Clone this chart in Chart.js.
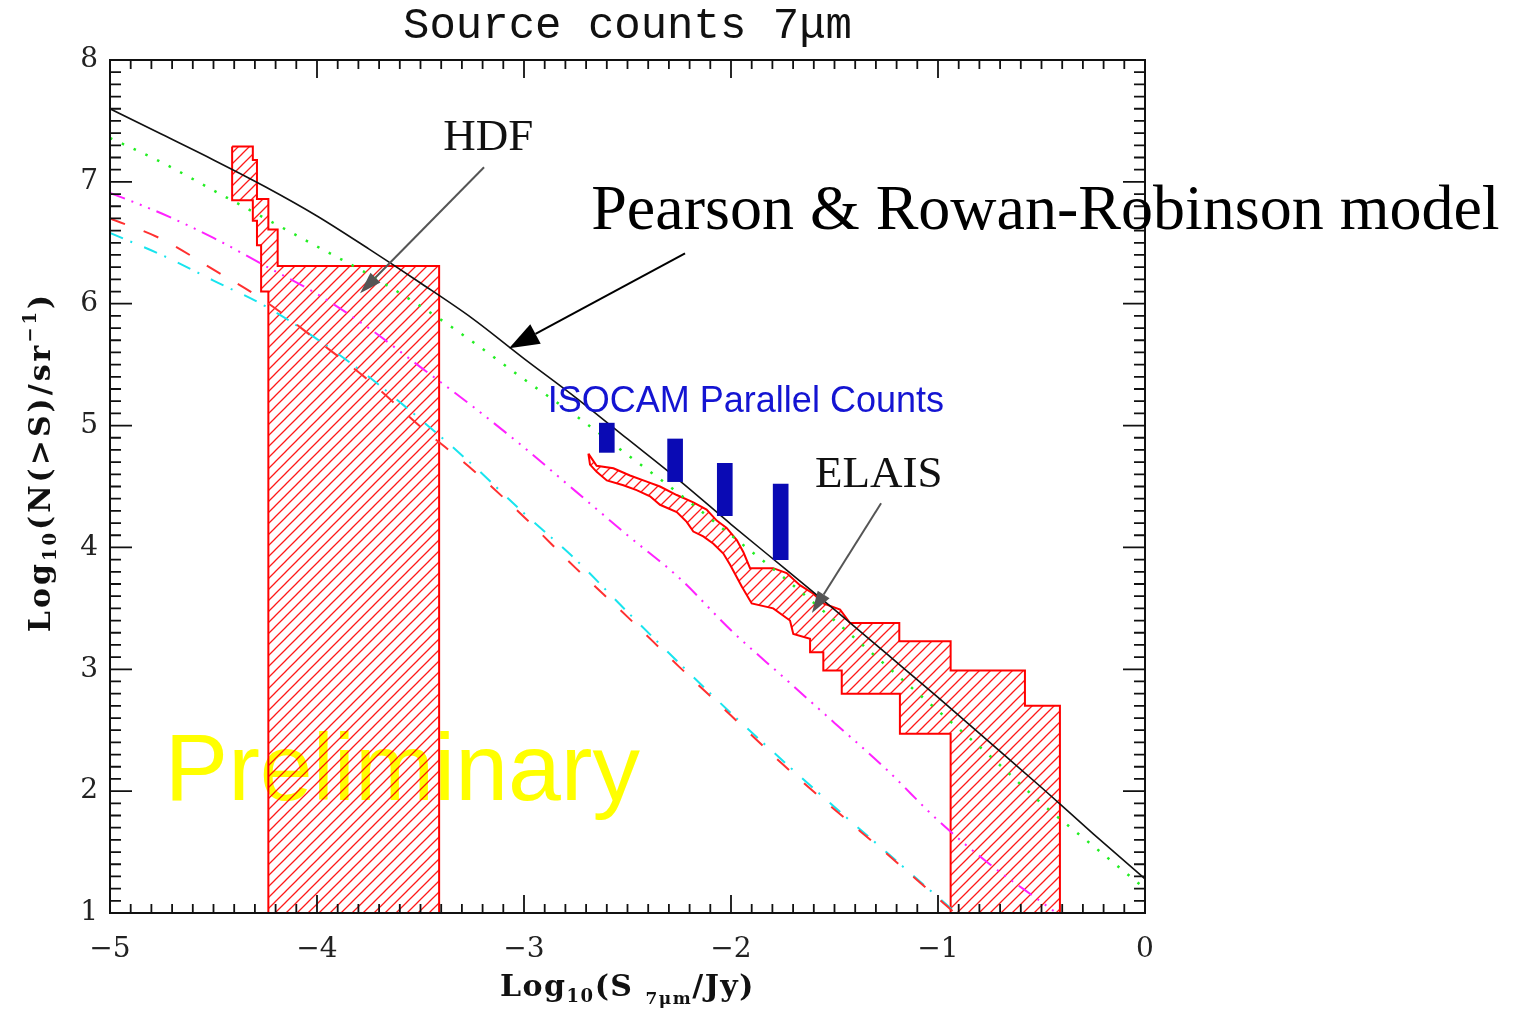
<!DOCTYPE html>
<html>
<head>
<meta charset="utf-8">
<title>Source counts 7μm</title>
<script src="https://cdn.jsdelivr.net/npm/chart.js@4.4.1/dist/chart.umd.min.js"></script>
<style>
  html, body { margin: 0; padding: 0; background: #fff; }
  canvas { display: block; }
</style>
</head>
<body>
<canvas id="myChart" width="1517" height="1013"></canvas>
<script>
'use strict';

// model curves, read every 0.25 in log S (null = below the plot)
let logS = [-5, -4.75, -4.5, -4.25, -4, -3.75, -3.5, -3.25, -3, -2.75, -2.5, -2.25, -2, -1.75, -1.5, -1.25, -1, -0.75, -0.5, -0.25, 0];
let totalModel = [7.60, 7.39, 7.18, 6.96, 6.72, 6.45, 6.17, 5.88, 5.55, 5.23, 4.89, 4.55, 4.19, 3.84, 3.49, 3.13, 2.77, 2.40, 2.03, 1.65, 1.28];
let greenModel = [7.36, 7.16, 6.93, 6.70, 6.47, 6.24, 5.98, 5.69, 5.38, 5.08, 4.76, 4.44, 4.10, 3.76, 3.40, 3.03, 2.66, 2.29, 1.90, 1.55, 1.20];
let magentaModel = [6.91, 6.74, 6.54, 6.31, 6.08, 5.80, 5.48, 5.16, 4.82, 4.46, 4.10, 3.75, 3.32, 2.94, 2.56, 2.18, 1.76, 1.40, 1.09, 0.78, null];
let redModel = [6.70, 6.53, 6.28, 6.02, 5.70, 5.37, 4.99, 4.64, 4.25, 3.83, 3.43, 3.02, 2.62, 2.22, 1.85, 1.49, 1.12, 0.75, null, null, null];
let cyanModel = [6.58, 6.40, 6.19, 5.98, 5.71, 5.40, 5.05, 4.68, 4.28, 3.90, 3.47, 3.05, 2.64, 2.25, 1.87, 1.50, 1.13, 0.76, null, null, null];

// HDF counts band (outline of the hatched region)
let hdfX = [-4.41, -4.31, -4.31, -4.29, -4.29, -4.235, -4.235, -4.19, -4.19, -3.41, -3.41, -4.235, -4.235, -4.27, -4.27, -4.29, -4.29, -4.31, -4.31, -4.41, -4.41];
let hdfY = [7.29, 7.29, 7.18, 7.18, 6.86, 6.86, 6.61, 6.61, 6.31, 6.31, 1.0, 1.0, 6.10, 6.10, 6.48, 6.48, 6.68, 6.68, 6.85, 6.85, 7.29];

// ELAIS counts band: upper edge left to right, then lower edge back
let elaisX = [-2.689, -2.649, -2.568, -2.488, -2.407, -2.343, -2.262, -2.182, -2.118, -2.069, -2.021, -1.972, -1.94, -1.908, -1.796, -1.731, -1.667, -1.602, -1.554, -1.473, -1.425, -1.187, -1.187, -0.939, -0.939, -0.58, -0.58, -0.411, -0.411,
    -0.939, -0.939, -1.184, -1.184, -1.465, -1.465, -1.554, -1.554, -1.618, -1.618, -1.699, -1.715, -1.796, -1.90, -1.948, -2.005, -2.037, -2.085, -2.134, -2.182, -2.214, -2.262, -2.343, -2.391, -2.456, -2.52, -2.60, -2.649, -2.681, -2.689];
let elaisY = [4.77, 4.67, 4.65, 4.59, 4.54, 4.50, 4.43, 4.37, 4.31, 4.22, 4.16, 4.06, 3.96, 3.83, 3.83, 3.79, 3.69, 3.62, 3.54, 3.49, 3.38, 3.38, 3.23, 3.23, 2.99, 2.99, 2.70, 2.70, 1.0,
    1.0, 2.47, 2.47, 2.80, 2.80, 2.99, 2.99, 3.14, 3.14, 3.25, 3.29, 3.40, 3.50, 3.54, 3.68, 3.86, 3.95, 4.03, 4.09, 4.13, 4.21, 4.29, 4.35, 4.42, 4.47, 4.51, 4.55, 4.62, 4.68, 4.77];

// ISOCAM parallel counts (error bars)
let isoX = [-2.60, -2.27, -2.03, -1.76];
let isoLow = [4.78, 4.54, 4.26, 3.90];
let isoHigh = [5.02, 4.89, 4.69, 4.52];

let xTicks = [-5, 0];
let yTicks = [1, 8];
let minorStep = 0.1;

let ctx = document.getElementById('myChart').getContext('2d');

function makeHatch(color) {
    let size = 11;
    let c = document.createElement('canvas');
    c.width = size;
    c.height = size;
    let g = c.getContext('2d');
    g.strokeStyle = color;
    g.lineWidth = 1.3;
    g.beginPath();
    g.moveTo(0, size); g.lineTo(size, 0);
    g.moveTo(-1, 1); g.lineTo(1, -1);
    g.moveTo(size - 1, size + 1); g.lineTo(size + 1, size - 1);
    g.stroke();
    return ctx.createPattern(c, 'repeat');
}

function toPoints(xs, ys) {
    return xs.map((x, i) => ({ x: x, y: ys[i] })).filter(p => p.y !== null);
}

function modelLine(label, ys, color, dash, width) {
    return {
        type: 'line',
        label: label,
        data: toPoints(logS, ys),
        borderColor: color,
        borderDash: dash,
        borderWidth: width,
        cubicInterpolationMode: 'monotone',
        pointRadius: 0,
        fill: false,
        order: 2
    };
}

function band(label, xs, ys) {
    return {
        type: 'line',
        label: label,
        data: toPoints(xs, ys),
        borderColor: '#ff0000',
        borderWidth: 2,
        backgroundColor: makeHatch('rgba(255,0,0,0.9)'),
        fill: 'shape',
        pointRadius: 0,
        order: 5
    };
}

// text and arrows, placed in data units
let notes = [
    { text: 'HDF', x: -3.39, y: 7.26, font: '45px "Liberation Serif"', color: '#111' },
    { text: 'Pearson & Rowan-Robinson model', x: -2.675, y: 6.61, font: '64px "Liberation Serif"', color: '#000' },
    { text: 'ISOCAM Parallel Counts', x: -2.885, y: 5.11, font: '36px "Liberation Sans"', color: '#1414d2' },
    { text: 'ELAIS', x: -1.594, y: 4.50, font: '45px "Liberation Serif"', color: '#111' }
];
let arrows = [
    { from: [-3.193, 7.12], to: [-3.792, 6.086], color: '#555', head: 22, width: 14 },
    { from: [-2.222, 6.414], to: [-3.072, 5.635], color: '#000', head: 30, width: 22 },
    { from: [-1.275, 4.363], to: [-1.609, 3.461], color: '#555', head: 22, width: 14 }
];

function drawArrow(c, x1, y1, x2, y2, color, head, width) {
    let ang = Math.atan2(y2 - y1, x2 - x1);
    c.save();
    c.strokeStyle = color;
    c.fillStyle = color;
    c.lineWidth = 2;
    c.beginPath();
    c.moveTo(x1, y1);
    c.lineTo(x2 - head * Math.cos(ang), y2 - head * Math.sin(ang));
    c.stroke();
    c.translate(x2, y2);
    c.rotate(ang);
    c.beginPath();
    c.moveTo(0, 0);
    c.lineTo(-head, -width / 2);
    c.lineTo(-head, width / 2);
    c.closePath();
    c.fill();
    c.restore();
}

// runs of text with sub/superscripts, centred on x
function drawRuns(c, runs, x, y, family, weight, spacing) {
    c.letterSpacing = spacing + 'px';
    let total = 0;
    runs.forEach(r => {
        c.font = weight + ' ' + r.size + 'px ' + family;
        r.w = c.measureText(r.text).width;
        total += r.w;
    });
    let px = x - total / 2;
    runs.forEach(r => {
        c.font = weight + ' ' + r.size + 'px ' + family;
        c.fillText(r.text, px, y + r.dy);
        px += r.w;
    });
    c.letterSpacing = '0px';
}

let preliminary = {
    id: 'preliminary',
    beforeDatasetsDraw(chart) {
        let { ctx: c, scales: { x, y } } = chart;
        c.save();
        c.fillStyle = '#ffff00';
        c.font = '95px "Liberation Sans"';
        c.textBaseline = 'alphabetic';
        c.fillText('Preliminary', x.getPixelForValue(-4.735), y.getPixelForValue(1.93));
        c.restore();
    }
};

let frameAndText = {
    id: 'frameAndText',
    afterDraw(chart) {
        let { ctx: c, chartArea: a, scales: { x, y } } = chart;
        c.save();
        c.strokeStyle = '#111';
        c.lineWidth = 2;
        c.strokeRect(a.left, a.top, a.right - a.left, a.bottom - a.top);

        // inward ticks on all four sides
        c.lineWidth = 1.8;
        c.beginPath();
        let nx = Math.round((x.max - x.min) / minorStep);
        for (let i = 0; i <= nx; i++) {
            let px = x.getPixelForValue(x.min + i * minorStep);
            let len = i % 10 === 0 ? 18 : 9;
            c.moveTo(px, a.bottom); c.lineTo(px, a.bottom - len);
            c.moveTo(px, a.top); c.lineTo(px, a.top + len);
        }
        let ny = Math.round((y.max - y.min) / minorStep);
        for (let i = 0; i <= ny; i++) {
            let py = y.getPixelForValue(y.min + i * minorStep);
            let len = i % 10 === 0 ? 22 : 11;
            c.moveTo(a.left, py); c.lineTo(a.left + len, py);
            c.moveTo(a.right, py); c.lineTo(a.right - len, py);
        }
        c.stroke();

        c.fillStyle = '#111';
        c.textBaseline = 'alphabetic';
        c.textAlign = 'center';
        c.font = '44px "Liberation Mono"';
        c.fillText('Source counts 7\u03bcm', (a.left + a.right) / 2, 38);

        c.textAlign = 'left';
        drawRuns(c, [
            { text: 'Log', size: 30, dy: 0 },
            { text: '10', size: 18, dy: 6 },
            { text: '(S ', size: 30, dy: 0 },
            { text: '7\u03bcm', size: 17, dy: 8 },
            { text: '/Jy)', size: 30, dy: 0 }
        ], (a.left + a.right) / 2, 996, '"DejaVu Serif"', 'bold', 1.5);

        c.save();
        c.translate(50, 462);
        c.rotate(-Math.PI / 2);
        drawRuns(c, [
            { text: 'Log', size: 30, dy: 0 },
            { text: '10', size: 18, dy: 6 },
            { text: '(N(>S)/sr', size: 30, dy: 0 },
            { text: '\u22121', size: 18, dy: -14 },
            { text: ')', size: 30, dy: 0 }
        ], 0, 0, '"DejaVu Serif"', 'bold', 3);
        c.restore();

        notes.forEach(n => {
            c.font = n.font;
            c.fillStyle = n.color;
            c.fillText(n.text, x.getPixelForValue(n.x), y.getPixelForValue(n.y));
        });
        arrows.forEach(ar => {
            drawArrow(c, x.getPixelForValue(ar.from[0]), y.getPixelForValue(ar.from[1]),
                x.getPixelForValue(ar.to[0]), y.getPixelForValue(ar.to[1]), ar.color, ar.head, ar.width);
        });
        c.restore();
    }
};

let tickFont = { family: '"DejaVu Serif"', size: 28 };

let myChart = new Chart(ctx, {
    type: 'scatter',
    data: {
        datasets: [
            band('HDF', hdfX, hdfY),
            band('ELAIS', elaisX, elaisY),
            modelLine('Pearson & Rowan-Robinson', totalModel, '#111111', [], 1.6),
            modelLine('green', greenModel, '#22ee22', [2.5, 10.5], 2.5),
            modelLine('magenta', magentaModel, '#ff22ff', [16, 7, 2, 7, 2, 7, 2, 7], 2),
            modelLine('red', redModel, '#ff3030', [16, 20], 2),
            modelLine('cyan', cyanModel, '#18e4ee', [14, 8, 2, 13], 2),
            {
                type: 'bar',
                label: 'ISOCAM Parallel Counts',
                data: isoX.map((x, i) => ({ x: x, y: [isoLow[i], isoHigh[i]] })),
                backgroundColor: '#0a0ab4',
                borderWidth: 0,
                barThickness: 15,
                order: 1
            }
        ]
    },
    options: {
        responsive: false,
        animation: false,
        events: [],
        layout: { padding: { left: 0, top: 60, right: 372, bottom: 0 } },
        plugins: {
            legend: { display: false },
            tooltip: { enabled: false },
            title: { display: false }
        },
        scales: {
            x: {
                type: 'linear',
                min: xTicks[0],
                max: xTicks[1],
                offset: false,
                grid: { display: false, drawTicks: false, offset: false },
                border: { display: false },
                ticks: {
                    stepSize: 1,
                    padding: 20,
                    color: '#222',
                    font: tickFont,
                    maxRotation: 0,
                    callback: v => v < 0 ? '\u2212' + Math.abs(v) : String(v)
                },
                afterFit: s => { s.height = 100; }
            },
            y: {
                type: 'linear',
                min: yTicks[0],
                max: yTicks[1],
                grid: { display: false, drawTicks: false },
                border: { display: false },
                ticks: { stepSize: 1, padding: 12, color: '#222', font: tickFont },
                afterFit: s => { s.width = 110; }
            }
        }
    },
    plugins: [preliminary, frameAndText]
});
</script>
</body>
</html>
